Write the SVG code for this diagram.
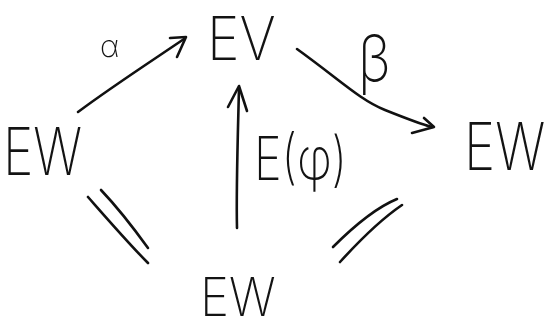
<svg xmlns="http://www.w3.org/2000/svg" width="547" height="329" viewBox="0 0 547 329">
  <style>
    .lbl { font-family: Inter, "DejaVu Sans", sans-serif; font-weight: 200; fill: #111; }
    .ln { fill: none; stroke: #111; stroke-width: 2.6; stroke-linecap: round; stroke-linejoin: round; }
  </style>
  <rect width="547" height="329" fill="#fff"/>

  <g id="connectors">
    <!-- alpha: EW -> EV -->
    <path class="ln" d="M78,112 C110,88 150,62 184,39"/>
    <path class="ln" d="M170,38 L186,37 L177,57"/>
    <!-- beta: EV -> EW -->
    <path class="ln" d="M297,49 C340,80 360,100 385,110 C405,118 420,124 432,127"/>
    <path class="ln" d="M424,118 L434,127 L412,133"/>
    <!-- E(phi): EW -> EV -->
    <path class="ln" d="M237,228 C236,190 238,130 239,88" stroke-width="1.8"/>
    <path class="ln" d="M228,107 L239,86 L247,111"/>
    <!-- identity, left -->
    <path class="ln" d="M88,197 C110,222 130,245 148,263"/>
    <path class="ln" d="M101,190 C120,210 135,230 148,248"/>
    <!-- identity, right -->
    <path class="ln" d="M333,247 C355,225 375,208 397,199"/>
    <path class="ln" d="M340,262 C360,240 380,220 402,205"/>
  </g>

  <g opacity="0.99">
    <g id="node-ev">
      <text class="lbl" font-size="60" transform="translate(207,60) scale(0.92,1)">EV</text>
    </g>
    <g id="node-ew-left">
      <text class="lbl" font-size="66" transform="translate(3,175) scale(0.78,1)">EW</text>
    </g>
    <g id="node-ew-right">
      <text class="lbl" font-size="66" transform="translate(464,170) scale(0.8,1)">EW</text>
    </g>
    <g id="node-ew-bottom">
      <text class="lbl" font-size="53" transform="translate(200,316) scale(0.93,1)">EW</text>
    </g>

    <g id="labels">
      <text class="lbl" font-size="30" transform="translate(100,57)">α</text>
      <text class="lbl" font-size="66" transform="translate(358,82) scale(0.85,1)">β</text>
      <text class="lbl" font-size="60" transform="translate(254,180) scale(0.78,1)">E(φ)</text>
    </g>
  </g>
</svg>
